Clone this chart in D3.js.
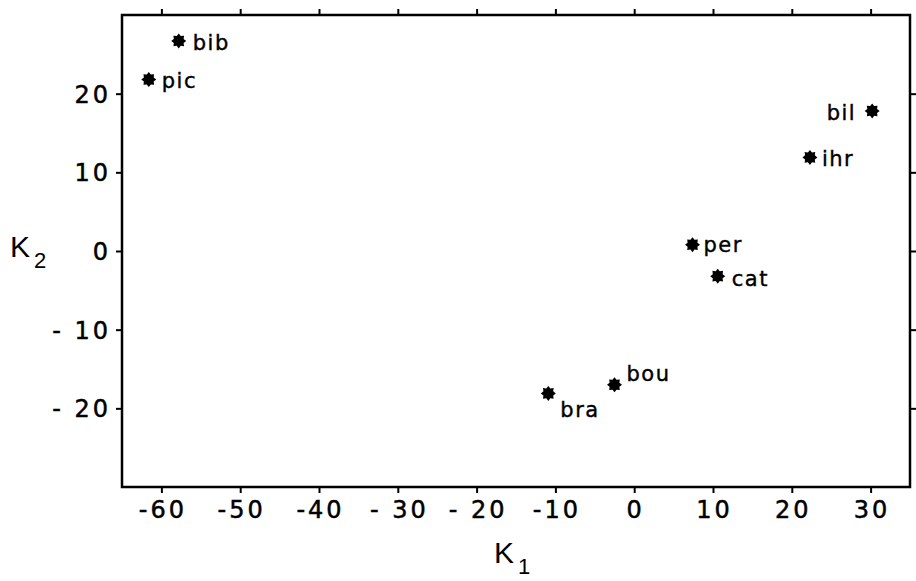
<!DOCTYPE html>
<html>
<head>
<meta charset="utf-8">
<script src="https://d3js.org/d3.v7.min.js"></script>
<style>
  body { margin: 0; background: white; }
  svg text { font-family: 'DejaVu Sans', sans-serif; fill: black; }
  .tick-label { font-size: 24px; letter-spacing: 3px; stroke: black; stroke-width: 0.5px; }
  .pt-label { font-size: 21px; letter-spacing: 1.5px; stroke: black; stroke-width: 0.4px; }
  .axis-title { font-size: 30px; font-family: 'Liberation Sans', Arial, sans-serif !important; }
</style>
</head>
<body>
<svg id="chart"></svg>
<script>
var width = 916, height = 581;

// the data
var names = ["bib", "pic", "bil", "ihr", "per", "cat", "bou", "bra"];
var k1 = [-57.8, -61.6, 30.2, 22.3, 7.4, 10.6, -2.5, -10.9];
var k2 = [26.7, 21.8, 17.8, 11.9, 0.8, -3.2, -17.0, -18.1];

var xTicks = [-60, -50, -40, -30, -20, -10, 0, 10, 20, 30];
var xTickLabels = ["-60", "-50", "-40", "- 30", "- 20", "-10", "0", "10", "20", "30"];
var yTicks = [20, 10, 0, -10, -20];
var yTickLabels = ["20", "10", "0", "- 10", "- 20"];

// label placement relative to the marker
var labelPos = {
  bib: {dx: 14, dy: 9, anchor: "start"},
  pic: {dx: 13, dy: 8, anchor: "start"},
  bil: {dx: -16, dy: 9, anchor: "end"},
  ihr: {dx: 12, dy: 9, anchor: "start"},
  per: {dx: 11, dy: 7, anchor: "start"},
  cat: {dx: 14, dy: 10, anchor: "start"},
  bou: {dx: 12, dy: -4, anchor: "start"},
  bra: {dx: 12, dy: 24, anchor: "start"}
};

var margin = {top: 15, right: 6, bottom: 94, left: 122};
var w = width - margin.left - margin.right;
var h = height - margin.top - margin.bottom;

var svg = d3.select("#chart").attr("width", width).attr("height", height);
var g = svg.append("g").attr("transform", "translate(" + margin.left + "," + margin.top + ")");

var x = d3.scaleLinear().domain([-65, 35]).range([0, w]);
var y = d3.scaleLinear().domain([-30, 30]).range([h, 0]);

// axes (ticks point outward on all four sides)
var xAxis = g.append("g").attr("transform", "translate(0," + h + ")")
  .call(d3.axisBottom(x).tickValues(xTicks).tickSize(6).tickFormat(function(d, i) { return xTickLabels[i]; }));
var xAxisTop = g.append("g")
  .call(d3.axisTop(x).tickValues(xTicks).tickSize(6).tickFormat(""));
var yAxis = g.append("g")
  .call(d3.axisLeft(y).tickValues(yTicks).tickSize(6).tickFormat(function(d, i) { return yTickLabels[i]; }));
var yAxisRight = g.append("g").attr("transform", "translate(" + w + ",0)")
  .call(d3.axisRight(y).tickValues(yTicks).tickSize(6).tickFormat(""));

g.selectAll(".domain").remove();
g.selectAll(".tick line").attr("stroke", "black").attr("stroke-width", 2);

xAxis.selectAll(".tick text").attr("class", "tick-label")
  .attr("x", 1).attr("y", 31).attr("dy", 0).attr("font-size", null).attr("font-family", null);
yAxis.selectAll(".tick text").attr("class", "tick-label")
  .attr("x", -11).attr("dy", "0.36em").attr("font-size", null).attr("font-family", null);

// frame
g.append("rect")
  .attr("x", 0).attr("y", 0).attr("width", w).attr("height", h)
  .attr("fill", "none").attr("stroke", "black").attr("stroke-width", 2.5);

// star markers
function starPath(ro, ri, n) {
  var pts = [];
  for (var i = 0; i < 2 * n; i++) {
    var r = i % 2 === 0 ? ro : ri;
    var a = Math.PI * i / n - Math.PI / 2;
    pts.push([r * Math.cos(a), r * Math.sin(a)]);
  }
  return "M" + pts.map(function(p) { return p[0].toFixed(2) + "," + p[1].toFixed(2); }).join("L") + "Z";
}
var star = starPath(7.5, 5.3, 8);

var pts = g.selectAll(".pt").data(names).enter().append("g")
  .attr("transform", function(d, i) { return "translate(" + x(k1[i]) + "," + y(k2[i]) + ")"; });

pts.append("path").attr("d", star).attr("fill", "black");

pts.append("text").attr("class", "pt-label")
  .attr("x", function(d) { return labelPos[d].dx; })
  .attr("y", function(d) { return labelPos[d].dy; })
  .attr("text-anchor", function(d) { return labelPos[d].anchor; })
  .text(function(d) { return d; });

// axis titles
var t1 = svg.append("text").attr("class", "axis-title").attr("x", 494).attr("y", 563);
t1.append("tspan").text("K");
t1.append("tspan").attr("dx", 4).attr("dy", 11).attr("font-size", 22).text("1");

var t2 = svg.append("text").attr("class", "axis-title").attr("x", 10).attr("y", 257);
t2.append("tspan").text("K");
t2.append("tspan").attr("dx", 4).attr("dy", 11).attr("font-size", 22).text("2");
</script>
</body>
</html>
